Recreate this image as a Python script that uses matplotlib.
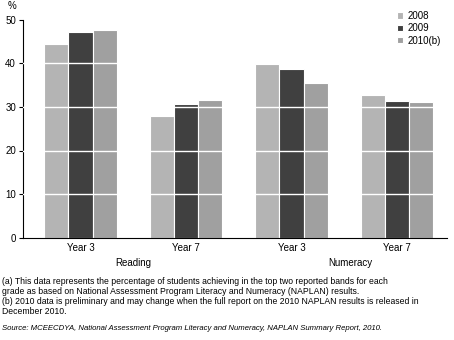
import matplotlib
matplotlib.use("Agg")
import matplotlib.pyplot as plt
import numpy as np

plt.rcParams["font.family"] = ["Liberation Sans", "DejaVu Sans"]

groups = ["Year 3", "Year 7", "Year 3", "Year 7"]
domains = ["Reading", "Numeracy"]
series = ["2008", "2009", "2010(b)"]
vals_2008 = [44.5, 27.9, 39.9, 32.8]
vals_2009 = [47.2, 30.7, 38.7, 31.4]
vals_2010 = [47.7, 31.6, 35.5, 31.1]
colors = ["#b4b4b4", "#404040", "#a0a0a0"]

W, H = 454, 340
fig = plt.figure(figsize=(W / 100, H / 100), dpi=100)
ax = fig.add_axes([23 / W, 1 - 237.5 / H, 424 / W, 217.5 / H])

x = np.arange(len(groups))
bw = 0.23
for i, (vals, c, lab) in enumerate(zip([vals_2008, vals_2009, vals_2010], colors, series)):
    ax.bar(x + (i - 1) * bw, vals, bw, color=c, edgecolor="white", linewidth=0.8,
           label=lab, zorder=2)

# white gridlines running across the bars
for yv in [10, 20, 30, 40]:
    ax.axhline(yv, color="white", linewidth=1.0, zorder=3)

ax.set_xlim(-0.545, 3.475)
ax.set_ylim(0, 50)
ax.set_yticks([0, 10, 20, 30, 40, 50])
ax.set_xticks(x)
ax.set_xticklabels(groups)
ax.tick_params(axis="x", length=0, labelsize=7, pad=4)
ax.tick_params(axis="y", length=3, width=0.8, labelsize=7, pad=2)
for s in ["top", "right"]:
    ax.spines[s].set_visible(False)
ax.spines["left"].set_linewidth(0.8)
ax.spines["bottom"].set_linewidth(0.8)

fig.text(12 / W, 1 - 6 / H, "%", fontsize=7, ha="center", va="center")

for name, px in zip(domains, [133, 350]):
    fig.text(px / W, 1 - 263 / H, name, fontsize=7, ha="center", va="center")

leg = ax.legend(loc="upper left", bbox_to_anchor=(392 / W, 1 - 6 / H),
                bbox_transform=fig.transFigure, frameon=False, fontsize=7,
                handlelength=0.6, handleheight=0.6, handletextpad=0.5,
                labelspacing=0.25, borderpad=0)

notes = [
    (282, "(a) This data represents the percentage of students achieving in the top two reported bands for each"),
    (292, "grade as based on National Assessment Program Literacy and Numeracy (NAPLAN) results."),
    (302, "(b) 2010 data is preliminary and may change when the full report on the 2010 NAPLAN results is released in"),
    (312, "December 2010."),
]
for py, t in notes:
    fig.text(2 / W, 1 - py / H, t, fontsize=6.2, ha="left", va="center")
fig.text(2 / W, 1 - 328 / H,
         "Source: MCEECDYA, National Assessment Program Literacy and Numeracy, NAPLAN Summary Report, 2010.",
         fontsize=5.6, style="italic", ha="left", va="center")

fig.savefig("out.png", dpi=100)
